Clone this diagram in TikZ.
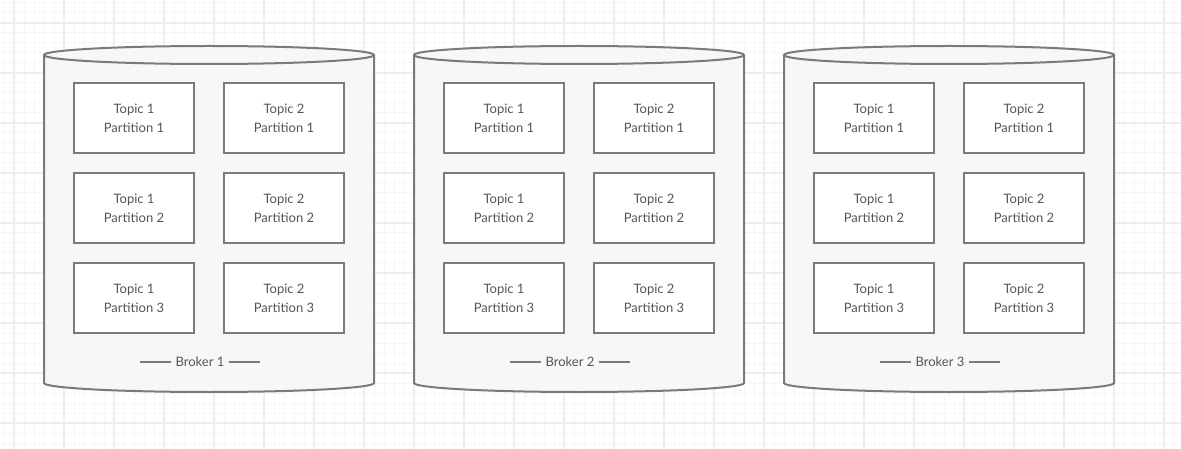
\documentclass[tikz,border=0pt]{standalone}
\usepackage{fontspec}
\setmainfont{Lato}
\usetikzlibrary{shapes.geometric, arrows}
\definecolor{edge}{HTML}{7A7A7A}
\definecolor{bodyfill}{HTML}{F7F7F7}
\definecolor{txt}{HTML}{555555}
\definecolor{gridmajor}{HTML}{EEEEEE}
\definecolor{gridminor}{HTML}{F6F6F6}
\tikzstyle{part} = [rectangle, minimum width=120pt, minimum height=70pt, text centered, align=center, draw=edge, line width=2pt, fill=white, text=txt, font=\fontsize{13}{19}\selectfont]
\tikzstyle{broker} = [draw=edge, line width=2pt, fill=bodyfill]
\tikzstyle{tag} = [text=txt, inner sep=0pt, font=\fontsize{13}{16}\selectfont]
\tikzstyle{tagline} = [draw=edge, line width=1.6pt]

\begin{document}
\begin{tikzpicture}[x=1pt, y=-1pt, node distance=90pt]
\useasboundingbox (0,0) rectangle (1181,449);
\fill[white] (0,0) rectangle (1181,449);

% grid
\foreach \x in {4,14,...,1174} \draw[gridminor, line width=1pt] (\x,0) -- (\x,449);
\foreach \y in {3,13,...,443} \draw[gridminor, line width=1pt] (0,\y) -- (1181,\y);
\foreach \x in {14,64,...,1164} \draw[gridmajor, line width=2pt] (\x,0) -- (\x,449);
\foreach \y in {23,73,...,423} \draw[gridmajor, line width=2pt] (0,\y) -- (1181,\y);

% brokers
\foreach \i/\cx in {1/209,2/579,3/949} {
\begin{scope}[xshift=\cx pt]
\fill[bodyfill] (-165,55) rectangle (165,383);
\fill[bodyfill] (0,383) ellipse [x radius=165, y radius=9];
\draw[draw=edge, line width=2pt] (-165,55) -- (-165,383) arc[start angle=180, end angle=0, x radius=165, y radius=9] -- (165,55);
\draw[broker] (0,55) ellipse [x radius=165, y radius=9];

\node (t1p1b\i) [part] at (-75,118) {Topic 1\\Partition 1};
\node (t2p1b\i) [part, right of=t1p1b\i, xshift=60pt] {Topic 2\\Partition 1};
\node (t1p2b\i) [part, below of=t1p1b\i] {Topic 1\\Partition 2};
\node (t2p2b\i) [part, below of=t2p1b\i] {Topic 2\\Partition 2};
\node (t1p3b\i) [part, below of=t1p2b\i] {Topic 1\\Partition 3};
\node (t2p3b\i) [part, below of=t2p2b\i] {Topic 2\\Partition 3};

\node (tag\i) [tag] at (-9,362) {Broker \i};
\draw[tagline] ([xshift=-4pt]tag\i.west) -- ++(-31,0);
\draw[tagline] ([xshift=4pt]tag\i.east) -- ++(31,0);
\end{scope}
}

\end{tikzpicture}
\end{document}
